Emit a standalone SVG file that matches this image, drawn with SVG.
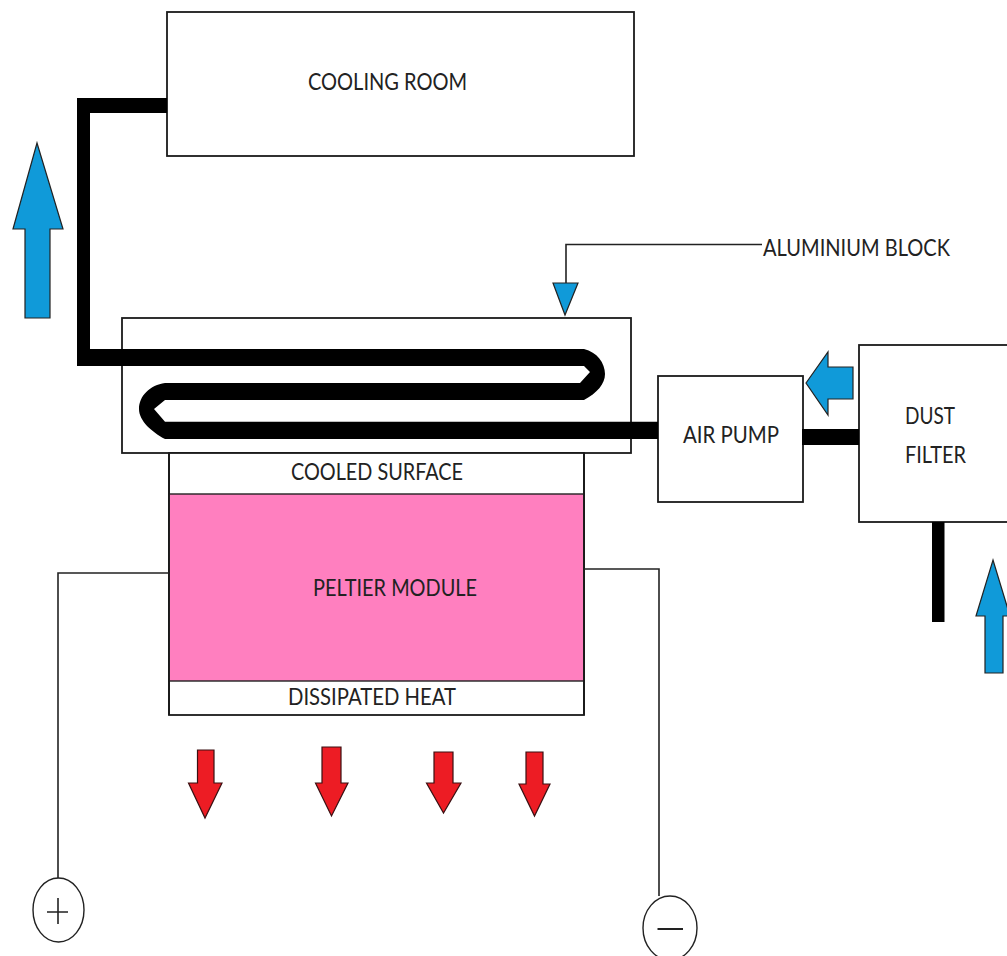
<svg xmlns="http://www.w3.org/2000/svg" width="1007" height="956" viewBox="0 0 1007 956">
<style>
.box{fill:#fff;stroke:#1a1a1a;stroke-width:1.8}
.pipe{fill:#000;stroke:none}
.wire{fill:none;stroke:#222;stroke-width:1.6}
.blue{fill:#109ad9;stroke:#222;stroke-width:1.2}
.red{fill:#ed1c24;stroke:#3a1012;stroke-width:1.2}
.t{font-family:"Lato","Carlito","Liberation Sans",sans-serif;font-size:24px;fill:#222}
.term{fill:#fff;stroke:#222;stroke-width:1.4}
</style>
<rect width="1007" height="956" fill="#fff"/>
<g id="cooling-room"><rect class="box" x="167" y="12" width="467" height="144"/><text class="t" x="308" y="90" textLength="159" lengthAdjust="spacingAndGlyphs">COOLING ROOM</text></g>
<g id="aluminium-block"><rect class="box" x="122" y="318" width="509" height="135"/><text class="t" x="763" y="256" textLength="187" lengthAdjust="spacingAndGlyphs">ALUMINIUM BLOCK</text></g>
<g id="peltier-module">
<rect class="box" x="169" y="453" width="415" height="262"/>
<rect x="169" y="494" width="415" height="187" fill="#ff7fbf" stroke="#222" stroke-width="1.4"/>
<path d="M169,453V715M584,453V715" fill="none" stroke="#1a1a1a" stroke-width="1.8"/>
<text class="t" x="291" y="480" textLength="172" lengthAdjust="spacingAndGlyphs">COOLED SURFACE</text>
<text class="t" x="313" y="596" textLength="164" lengthAdjust="spacingAndGlyphs">PELTIER MODULE</text>
<text class="t" x="288" y="705" textLength="168" lengthAdjust="spacingAndGlyphs">DISSIPATED HEAT</text>
</g>
<g id="air-pump"><rect class="box" x="658" y="376" width="145" height="126"/><text class="t" x="683" y="443" textLength="96" lengthAdjust="spacingAndGlyphs">AIR PUMP</text></g>
<g id="dust-filter"><rect class="box" x="859" y="345" width="160" height="177"/><text class="t" x="905" y="424" textLength="50" lengthAdjust="spacingAndGlyphs">DUST</text><text class="t" x="905" y="463" textLength="61" lengthAdjust="spacingAndGlyphs">FILTER</text></g>
<g id="connectors">
<path class="pipe" d="M167,98H77V366H90V113H167Z"/>
<path class="pipe" d="M77,349H584C597,352 605,363 605,374C605,384 597,393 584,400H165L154,409L165,421.700H658V439H165C152,432 139,421 139,409C139,396 150,385 165,383H580L590,372L584,366H77Z"/>
<rect class="pipe" x="802" y="429" width="57" height="16"/>
<rect class="pipe" x="932" y="522" width="12.500" height="100"/>
<path class="wire" d="M762,244.500H566V283"/>
<path class="wire" d="M169,573H58V878"/>
<path class="wire" d="M584,569H659V896"/>
</g>
<g id="arrows-blue">
<polygon class="blue" points="553,283 578,283 565,315"/>
<polygon class="blue" points="37,143 63,229 50,229 50,318 25,318 25,229 13,229"/>
<polygon class="blue" points="806,383 828,352 828,367 853,367 853,399 828,399 828,415"/>
<polygon class="blue" points="993,560 1010,616 1003,616 1003,673 985,673 985,616 976,616"/>
</g>
<g id="arrows-red">
<polygon class="red" points="197.500,750 214,750 214,783 222,783 205,818 188.500,783 197.500,783"/>
<polygon class="red" points="322,747 341,747 341,783 348,783 331.500,816 315.500,783 322,783"/>
<polygon class="red" points="434,752 453,752 453,783 461,783 443.500,813 426.500,783 434,783"/>
<polygon class="red" points="526,752 543,752 543,784 550,784 534.500,816 519,784 526,784"/>
</g>
<g id="terminal-plus"><ellipse class="term" cx="58.500" cy="910" rx="25.500" ry="32"/><path class="wire" d="M47,912H68M58,898V924"/></g>
<g id="terminal-minus"><ellipse class="term" cx="670" cy="928" rx="27" ry="32"/><path class="wire" style="stroke-width:2" d="M657.500,929H683"/></g>
</svg>
